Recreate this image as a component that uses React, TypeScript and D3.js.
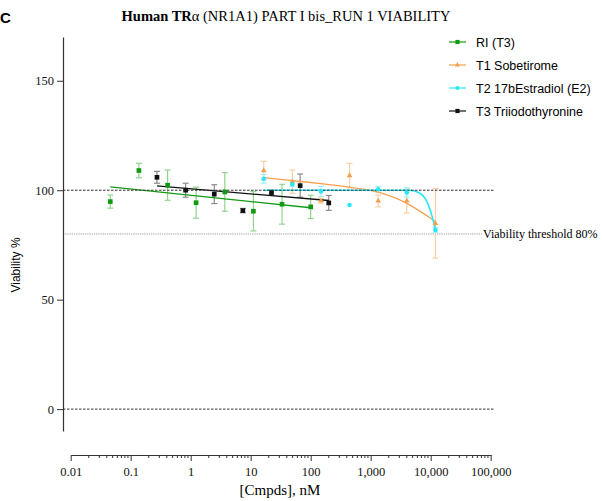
import React, { useEffect, useRef } from "react";
import * as d3 from "d3";

// Concentrations (nM) and viability (%) for each compound series
const riConc = [0.0457, 0.137, 0.412, 1.23, 3.7, 11.1, 33.3, 100];
const riViab = [94.8, 109.0, 102.3, 94.3, 99.2, 90.4, 93.6, 92.4];
const riErr = [3.0, 3.3, 6.9, 7.1, 8.8, 9.0, 9.1, 5.3];

const t3Conc = [0.274, 0.823, 2.47, 7.41, 22.2, 66.7, 200];
const t3Viab = [105.9, 100.0, 98.2, 90.7, 98.9, 102.1, 94.2];
const t3Err = [2.7, 3.2, 4.3, 1.0, 1.2, 5.3, 3.4];

const t1Conc = [16.5, 49.4, 148, 444, 1333, 4000, 12000];
const t1Viab = [109.0, 103.9, 95.2, 106.7, 95.1, 95.1, 84.9];
const t1Err = [4.2, 5.3, 1.1, 5.6, 2.7, 5.5, 15.9];

const t2Conc = [16.5, 49.4, 148, 444, 1333, 4000, 12000];
const t2Viab = [105.2, 102.7, 99.4, 93.3, 100.4, 99.0, 81.8];
const t2Err = [2.0, 1.0, 2.3, 0, 1.3, 2.1, 1.0];

// Fitted regression curves: [concentration, viability]
const riFit: [number, number][] = [[0.0457, 101.5], [100, 92.0]];
const t3Fit: [number, number][] = [[0.274, 102.0], [200, 95.3]];
const t1Fit: [number, number][] = [
  [16.5, 105.8], [49.4, 104.4], [148, 103.0], [444, 101.4],
  [1333, 99.1], [4000, 94.0], [9000, 88.0], [12000, 85.7],
];
const t2Fit: [number, number][] = [
  [16.5, 100], [4500, 100], [6600, 98.6], [8035, 96.3],
  [9120, 93.3], [10400, 88.7], [12000, 81.8],
];

const yTicks = [0, 50, 100, 150];
const xTicks = [0.01, 0.1, 1, 10, 100, 1000, 10000, 100000];
const referenceLines = [100, 0];
const threshold = 80;

const seriesNames = ["RI (T3)", "T1 Sobetirome", "T2 17bEstradiol (E2)", "T3 Triiodothyronine"];

const W = 602;
const H = 501;

type Series = {
  name: string;
  conc: number[];
  viab: number[];
  err: number[];
  fit: [number, number][];
  color: string;
  errColor: string;
  symbol: d3.SymbolType;
  size: number;
};

export default function App() {
  const ref = useRef<SVGSVGElement | null>(null);

  useEffect(() => {
    const svg = d3.select(ref.current);
    svg.selectAll("*").remove();

    const x = d3.scaleLog().domain([0.01, 100000]).range([70.7, 490.7]);
    const y = d3.scaleLinear().domain([-10, 170]).range([431, 37]);
    const yAxisX = 63;
    const xAxisY = 455;
    const serif = "'Liberation Serif', 'Times New Roman', serif";
    const sans = "'Liberation Sans', Arial, sans-serif";

    const series: Series[] = [
      { name: seriesNames[0], conc: riConc, viab: riViab, err: riErr, fit: riFit, color: "#139a13", errColor: "#8fd48f", symbol: d3.symbolSquare, size: 22 },
      { name: seriesNames[1], conc: t1Conc, viab: t1Viab, err: t1Err, fit: t1Fit, color: "#f5a04f", errColor: "#f9cfa5", symbol: d3.symbolTriangle, size: 14 },
      { name: seriesNames[2], conc: t2Conc, viab: t2Viab, err: t2Err, fit: t2Fit, color: "#28e6f5", errColor: "#9ef3fa", symbol: d3.symbolCircle, size: 16 },
      { name: seriesNames[3], conc: t3Conc, viab: t3Viab, err: t3Err, fit: t3Fit, color: "#111111", errColor: "#8a8a8a", symbol: d3.symbolSquare, size: 22 },
    ];

    // Panel letter and title
    svg.append("text").attr("x", 0).attr("y", 23)
      .attr("font-family", sans).attr("font-weight", "bold").attr("font-size", 15).text("C");

    const title = svg.append("text").attr("x", 286).attr("y", 21).attr("text-anchor", "middle")
      .attr("font-family", serif).attr("font-size", 14.5);
    title.append("tspan").attr("font-weight", "bold").text("Human TR");
    title.append("tspan").text("α (NR1A1) PART I bis_RUN 1 VIABILITY");

    const plotRight = 494;
    const line = d3.line<[number, number]>()
      .x((d) => x(d[0]))
      .y((d) => y(d[1]))
      .curve(d3.curveMonotoneX);

    // Threshold line and its label
    svg.append("line")
      .attr("x1", yAxisX).attr("x2", 483)
      .attr("y1", y(threshold)).attr("y2", y(threshold))
      .attr("stroke", "#9a9a9a").attr("stroke-width", 1).attr("stroke-dasharray", "1.2,1");
    svg.append("text").attr("x", 483).attr("y", y(threshold) + 4)
      .attr("font-family", serif).attr("font-size", 12).text("Viability threshold 80%");

    // Error bars
    series.forEach((s) => {
      const g = svg.append("g");
      s.conc.forEach((c, i) => {
        const e = s.err[i];
        if (e <= 0) return;
        const cx = x(c);
        g.append("line").attr("x1", cx).attr("x2", cx)
          .attr("y1", y(s.viab[i] - e)).attr("y2", y(s.viab[i] + e))
          .attr("stroke", s.errColor).attr("stroke-width", 1.2);
        [s.viab[i] - e, s.viab[i] + e].forEach((v) => {
          g.append("line").attr("x1", cx - 3).attr("x2", cx + 3)
            .attr("y1", y(v)).attr("y2", y(v))
            .attr("stroke", s.errColor).attr("stroke-width", 1.2);
        });
      });
    });

    // Fit curves
    series.forEach((s) => {
      svg.append("path").datum(s.fit).attr("d", line)
        .attr("fill", "none").attr("stroke", s.color)
        .attr("stroke-width", s.name === seriesNames[2] ? 1.6 : 1.3);
    });

    // Dashed reference lines at 100% and 0%
    referenceLines.forEach((v) => {
      svg.append("line")
        .attr("x1", yAxisX).attr("x2", plotRight)
        .attr("y1", y(v)).attr("y2", y(v))
        .attr("stroke", "#333").attr("stroke-width", 1).attr("stroke-dasharray", "2.5,1.5");
    });

    // Data markers
    series.forEach((s) => {
      const sym = d3.symbol().type(s.symbol).size(s.size);
      svg.append("g").selectAll("path").data(s.conc).join("path")
        .attr("transform", (c, i) => `translate(${x(c)},${y(s.viab[i])})`)
        .attr("d", sym)
        .attr("fill", s.color);
    });

    // Y axis
    const yAxis = svg.append("g").attr("transform", `translate(${yAxisX},0)`)
      .call(d3.axisLeft(y).tickValues(yTicks).tickSize(6).tickSizeOuter(0).tickPadding(3));
    yAxis.select(".domain").attr("stroke", "#333").attr("stroke-width", 1.2);
    yAxis.selectAll(".tick line").attr("stroke", "#333");
    yAxis.selectAll("text").attr("font-family", serif).attr("font-size", 12.5).attr("fill", "#111");

    svg.append("text")
      .attr("transform", `translate(20,265) rotate(-90)`)
      .attr("text-anchor", "middle")
      .attr("font-family", sans).attr("font-size", 12).text("Viability %");

    // X axis (log, with minor ticks)
    const fmt = (d: number) => (d < 1 ? String(d) : d3.format(",")(d));
    const xAxis = svg.append("g").attr("transform", `translate(0,${xAxisY})`)
      .call(d3.axisBottom(x).tickValues(xTicks).tickFormat(fmt as any).tickSize(6).tickSizeOuter(0).tickPadding(6));
    xAxis.select(".domain").attr("stroke", "#333").attr("stroke-width", 1.2);
    xAxis.selectAll(".tick line").attr("stroke", "#333");
    xAxis.selectAll("text").attr("font-family", serif).attr("font-size", 12.5).attr("fill", "#111");

    const minor: number[] = [];
    for (let p = -2; p < 5; p++) {
      for (let m = 2; m <= 9; m++) minor.push(m * Math.pow(10, p));
    }
    svg.append("g").selectAll("line").data(minor).join("line")
      .attr("x1", (d) => x(d)).attr("x2", (d) => x(d))
      .attr("y1", xAxisY).attr("y2", xAxisY + 3)
      .attr("stroke", "#333").attr("stroke-width", 1);

    svg.append("text").attr("x", 280).attr("y", 495).attr("text-anchor", "middle")
      .attr("font-family", serif).attr("font-size", 15).text("[Cmpds], nM");

    // Legend
    const legend = svg.append("g");
    series.forEach((s, i) => {
      const ly = 42 + i * 23;
      legend.append("line").attr("x1", 449).attr("x2", 466).attr("y1", ly).attr("y2", ly)
        .attr("stroke", s.color).attr("stroke-width", 1.2);
      legend.append("path").attr("transform", `translate(457.5,${ly})`)
        .attr("d", d3.symbol().type(s.symbol).size(s.size * 0.8)).attr("fill", s.color);
      legend.append("text").attr("x", 476).attr("y", ly + 4.5)
        .attr("font-family", sans).attr("font-size", 12.5).text(s.name);
    });
  }, []);

  return (
    <svg
      ref={ref}
      width={W}
      height={H}
      style={{ position: "absolute", left: 0, top: 0, background: "#fff" }}
    />
  );
}
